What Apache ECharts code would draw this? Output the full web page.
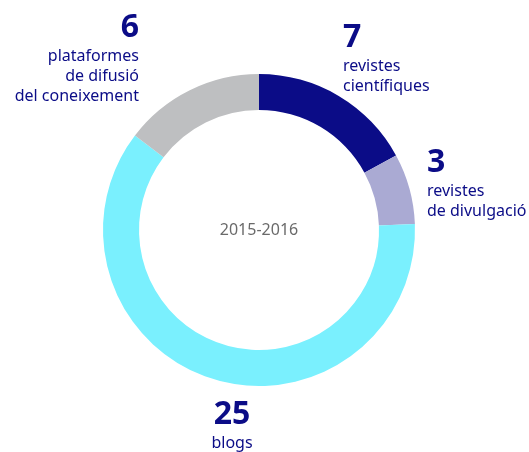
<!DOCTYPE html>
<html>
<head>
<meta charset="utf-8">
<script src="https://cdn.jsdelivr.net/npm/echarts@6/dist/echarts.min.js"></script>
<style>
    html, body { margin: 0; padding: 0; background: #fff; }
    #chart { width: 529px; height: 452px; }
</style>
</head>
<body>
<div id="chart"></div>
<script>
// dades
const categories = ['revistes científiques', 'revistes de divulgació', 'blogs', 'plataformes de difusió del coneixement']
const values = [7, 3, 25, 6]
const labelLines = [
    ['revistes', 'científiques'],
    ['revistes', 'de divulgació'],
    ['blogs'],
    ['plataformes', 'de difusió', 'del coneixement'],
]
const colors = ['#0b0c87', '#aaaad3', '#7af0fe', '#bebfc1']
const centerLabel = '2015-2016'

const navy = '#0b0c87'
const font = '"Noto Sans", sans-serif'

// posicions de les etiquetes
const labelPos = [
    { x: 343, y: 20, align: 'left' },
    { x: 427, y: 145, align: 'left' },
    { x: 232, y: 397, align: 'center' },
    { x: 139, y: 10, align: 'right' },
]

const chart = echarts.init(document.getElementById('chart'))

const labels = values.map((v, i) => ({
    type: 'text',
    x: labelPos[i].x,
    y: labelPos[i].y,
    style: {
        text: '{n|' + v + '}\n' + labelLines[i].map(t => '{t|' + t + '}').join('\n'),
        align: labelPos[i].align,
        verticalAlign: 'top',
        fill: navy,
        rich: {
            n: { fontFamily: font, fontSize: 32, fontWeight: 'bold', lineHeight: 36, fill: navy, align: labelPos[i].align },
            t: { fontFamily: font, fontSize: 16, lineHeight: 20, fill: navy, align: labelPos[i].align },
        },
    },
}))

const option = {
    animation: false,
    graphic: labels,
    series: [
        {
            name: centerLabel,
            type: 'pie',
            center: [259, 230],
            radius: [120, 156],
            startAngle: 90,
            clockwise: true,
            silent: true,
            label: {
                show: true,
                position: 'center',
                formatter: () => centerLabel,
                fontFamily: font,
                fontSize: 16,
                color: '#6a6a6a',
            },
            labelLine: { show: false },
            emphasis: { disabled: true },
            data: values.map((v, i) => ({
                value: v,
                name: categories[i],
                itemStyle: { color: colors[i] },
                label: { show: i === 0 },
            })),
        },
    ],
}

chart.setOption(option)
</script>
</body>
</html>
